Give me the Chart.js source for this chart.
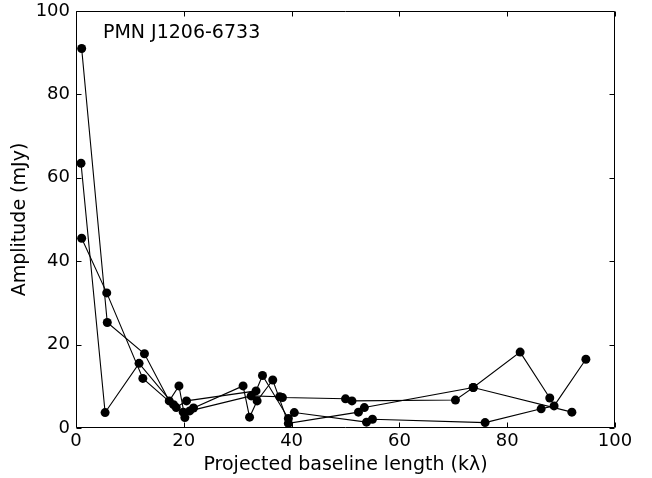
<!DOCTYPE html>
<html>
<head>
<meta charset="utf-8">
<script src="https://cdn.jsdelivr.net/npm/chart.js@4/dist/chart.umd.min.js"></script>
<style>
  html, body { margin: 0; padding: 0; background: #fff; }
  #wrap { width: 652px; height: 478px; }
</style>
</head>
<body>
<div id="wrap"><canvas id="ampChart"></canvas></div>
<script>
// Visibility amplitude vs projected baseline, one polyline per epoch
const sourceName = "PMN J1206-6733";

const baselineA = [1.05, 5.8, 12.7, 17.3, 19.1, 20.2, 21.8, 31.0, 32.2, 33.6, 36.5, 39.4, 52.4, 53.5, 73.7, 82.4, 87.9];
const ampA      = [91.0, 25.3, 17.8, 6.5, 10.1, 2.5, 4.8, 10.1, 2.6, 6.5, 11.5, 1.1, 3.8, 4.9, 9.7, 18.2, 7.2];

const baselineB = [0.93, 5.4, 11.7, 18.1, 19.9, 21.1, 32.5, 37.8, 38.3, 50.0, 51.2, 70.4, 73.7, 92.0];
const ampB      = [63.5, 3.7, 15.5, 5.6, 3.8, 4.1, 7.7, 7.5, 7.3, 7.0, 6.5, 6.7, 9.7, 3.8];

const baselineC = [1.05, 5.7, 12.4, 18.6, 20.5, 33.4, 34.6, 39.4, 40.5, 53.9, 55.0, 75.9, 86.3, 88.7, 94.6];
const ampC      = [45.5, 32.4, 11.9, 4.9, 6.5, 8.9, 12.6, 2.3, 3.7, 1.4, 2.1, 1.3, 4.6, 5.3, 16.5];

const xTicks = [0, 20, 40, 60, 80, 100];
const yTicks = [0, 20, 40, 60, 80, 100];

const FONT = "'DejaVu Sans', sans-serif";

function toPoints(xs, ys) {
    return xs.map((x, i) => ({ x: x, y: ys[i] }));
}

function epoch(xs, ys) {
    return {
        data: toPoints(xs, ys),
        showLine: true,
        borderColor: "#000",
        borderWidth: 1.1,
        backgroundColor: "#000",
        pointRadius: 4.5,
        pointHoverRadius: 4.5,
        pointBorderWidth: 0
    };
}

// frame, inward ticks on all four sides, and the source label
const frameTicks = {
    id: "frameTicks",
    afterDraw(chart) {
        const { ctx, chartArea, scales } = chart;
        const l = Math.round(chartArea.left) + 0.5;
        const r = Math.round(chartArea.right) - 0.5;
        const t = Math.round(chartArea.top) + 0.5;
        const b = Math.round(chartArea.bottom) - 0.5;
        const len = 5;

        ctx.save();
        ctx.strokeStyle = "#000";
        ctx.lineWidth = 1;
        ctx.beginPath();
        ctx.rect(l, t, r - l, b - t);

        xTicks.forEach(v => {
            const px = Math.round(scales.x.getPixelForValue(v)) + 0.5;
            ctx.moveTo(px, b); ctx.lineTo(px, b - len);
            ctx.moveTo(px, t); ctx.lineTo(px, t + len);
        });
        yTicks.forEach(v => {
            const py = Math.round(scales.y.getPixelForValue(v)) + 0.5;
            ctx.moveTo(l, py); ctx.lineTo(l + len, py);
            ctx.moveTo(r, py); ctx.lineTo(r - len, py);
        });
        ctx.stroke();

        ctx.fillStyle = "#000";
        ctx.font = "19px " + FONT;
        ctx.textAlign = "left";
        ctx.textBaseline = "middle";
        ctx.fillText(sourceName, scales.x.getPixelForValue(5), scales.y.getPixelForValue(94.8));
        ctx.restore();
    }
};

new Chart(document.getElementById("ampChart"), {
    type: "scatter",

    data: {
        datasets: [
            epoch(baselineA, ampA),
            epoch(baselineB, ampB),
            epoch(baselineC, ampC)
        ]
    },

    options: {
        responsive: true,
        maintainAspectRatio: false,
        animation: false,
        layout: {
            padding: { top: 11, right: 37, bottom: 0, left: 0 }
        },
        plugins: {
            legend: { display: false },
            tooltip: { enabled: false }
        },
        scales: {
            x: {
                type: "linear",
                min: 0,
                max: 100,
                afterFit: s => { s.height = 50; },
                afterBuildTicks: s => { s.ticks = xTicks.map(v => ({ value: v })); },
                grid: { display: false, drawTicks: false },
                border: { display: false },
                ticks: {
                    color: "#000",
                    font: { family: FONT, size: 18 },
                    padding: 3,
                    maxRotation: 0,
                    autoSkip: false
                },
                title: {
                    display: true,
                    text: "Projected baseline length (kλ)",
                    color: "#000",
                    font: { family: FONT, size: 19 },
                    padding: { top: 0, bottom: 2 }
                }
            },
            y: {
                type: "linear",
                min: 0,
                max: 100,
                afterFit: s => {
                    s.width = 76;
                    s.paddingTop = 0;
                    s.paddingBottom = 0;
                },
                afterBuildTicks: s => { s.ticks = yTicks.map(v => ({ value: v })); },
                grid: { display: false, drawTicks: false },
                border: { display: false },
                ticks: {
                    color: "#000",
                    font: { family: FONT, size: 18 },
                    padding: 6,
                    autoSkip: false
                },
                title: {
                    display: true,
                    text: "Amplitude (mJy)",
                    color: "#000",
                    font: { family: FONT, size: 19 },
                    padding: { top: 9, bottom: 0 }
                }
            }
        }
    },

    plugins: [frameTicks]
});
</script>
</body>
</html>
